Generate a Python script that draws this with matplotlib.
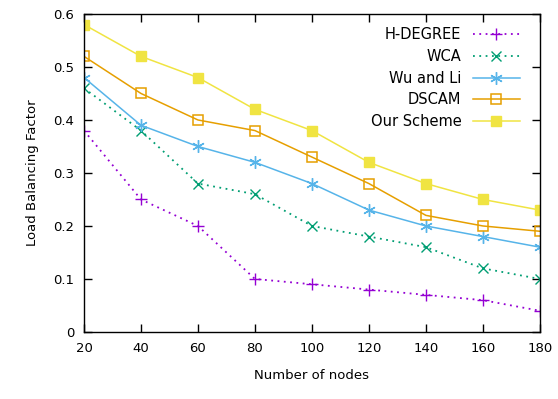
import matplotlib.pyplot as plt

# number of nodes vs load balancing factor for each clustering scheme
nodes = [20, 40, 60, 80, 100, 120, 140, 160, 180]
h_degree = [0.38, 0.25, 0.20, 0.10, 0.09, 0.08, 0.07, 0.06, 0.04]
wca = [0.46, 0.38, 0.28, 0.26, 0.20, 0.18, 0.16, 0.12, 0.10]
wu_li = [0.48, 0.39, 0.35, 0.32, 0.28, 0.23, 0.20, 0.18, 0.16]
dscam = [0.52, 0.45, 0.40, 0.38, 0.33, 0.28, 0.22, 0.20, 0.19]
our_scheme = [0.58, 0.52, 0.48, 0.42, 0.38, 0.32, 0.28, 0.25, 0.23]

plt.rcParams['font.family'] = ['DejaVu Sans']
plt.rcParams['font.size'] = 9.5

fig = plt.figure(figsize=(5.58, 3.99), dpi=100)
ax = fig.add_axes([0.1505, 0.168, 0.817, 0.797])

ax.plot(nodes, h_degree, color='#9400d3', ls=(0, (1, 2.5)), lw=1.3,
        marker='+', ms=8, mew=1, label='H-DEGREE')
ax.plot(nodes, wca, color='#009e73', ls=(0, (1, 2.5)), lw=1.3,
        marker='x', ms=7, mew=1, label='WCA')
ax.plot(nodes, wu_li, color='#56b4e9', lw=1.1,
        marker=(6, 2, 0), ms=9, mew=1, label='Wu and Li')
ax.plot(nodes, dscam, color='#e69f00', lw=1.1,
        marker='s', ms=7, mfc='none', mew=1.1, label='DSCAM')
ax.plot(nodes, our_scheme, color='#f0e442', lw=1.1,
        marker='s', ms=7, mfc='#f0e442', label='Our Scheme')

ax.set_xlim(20, 180)
ax.set_ylim(0, 0.6)
ax.set_xticks(nodes)
ax.set_yticks([0, 0.1, 0.2, 0.3, 0.4, 0.5, 0.6])
ax.set_yticklabels(['0', '0.1', '0.2', '0.3', '0.4', '0.5', '0.6'])
ax.tick_params(direction='in', top=True, right=True, length=6, width=1, pad=7)
for s in ax.spines.values():
    s.set_linewidth(1)

ax.set_xlabel('Number of nodes', labelpad=10)
ax.set_ylabel('Load Balancing Factor', labelpad=10)

ax.legend(loc='upper right', bbox_to_anchor=(0.975, 0.985), frameon=False,
          markerfirst=False, handlelength=3.2, labelspacing=0.45,
          borderaxespad=0.2, fontsize=10.5)

fig.savefig('out.png', dpi=100)
